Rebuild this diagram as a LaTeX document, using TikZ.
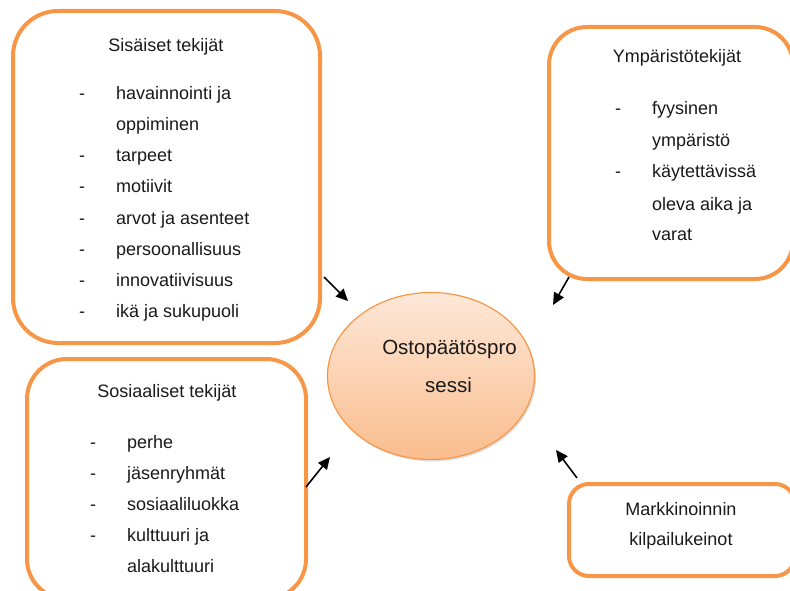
\documentclass[tikz,border=0pt]{standalone}
\usepackage{fontspec}
\setmainfont{Liberation Sans}
\usetikzlibrary{arrows.meta,shadows,shapes.geometric}
\definecolor{boxorange}{HTML}{F79646}
\definecolor{ellTop}{HTML}{FDE8D8}
\definecolor{ellBot}{HTML}{FABD8E}
\definecolor{inktext}{HTML}{1A1A1A}

\begin{document}
\begin{tikzpicture}[x=1pt,y=-1pt,
  factorbox/.style={draw=boxorange, line width=4pt, fill=white, inner sep=0pt},
  boxtext/.style={font=\fontsize{18}{22}\selectfont, text=inktext, inner sep=0pt},
  dashmark/.style={boxtext, anchor=base},
  itemtext/.style={boxtext, anchor=base west},
  titletext/.style={boxtext, anchor=base},
  proctext/.style={font=\fontsize{20.5}{24}\selectfont, text=inktext, inner sep=0pt, anchor=base},
  influence/.style={line width=1.6pt, draw=black, -{Triangle[length=12pt,width=11pt]}},
]
\useasboundingbox (0,0) rectangle (790,591);
\clip (0,0) rectangle (790,591);

% factor boxes
\node[factorbox, rounded corners=45pt, minimum width=307pt, minimum height=332pt] (sis) at (166.5,177) {};
\node[factorbox, rounded corners=40pt, minimum width=279pt, minimum height=240pt] (sos) at (166.5,479) {};
\node[factorbox, rounded corners=38pt, minimum width=244pt, minimum height=252pt] (ymp) at (671,153) {};
\node[factorbox, rounded corners=20pt, minimum width=226pt, minimum height=92pt] (mar) at (682,530) {};

% central process
\node[ellipse, draw=boxorange, line width=1.2pt, top color=ellTop, bottom color=ellBot,
      minimum width=207pt, minimum height=167pt, inner sep=0pt,
      drop shadow={shadow xshift=1.5pt, shadow yshift=-2pt, opacity=0.25}] (proc) at (431,376) {};
\node[proctext] (proc1) at (449.5,354) {Ostopäätöspro};
\node[proctext] (proc2) at (448.5,392) {sessi};

% internal factors
\node[titletext] (sisT) at (166,51.7) {Sisäiset tekijät};
\node[dashmark] (sd1) at (82,99.7) {-};
\node[itemtext] (si1) at (116,99.7) {havainnointi ja};
\node[itemtext] (si1b) at (116,130.8) {oppiminen};
\node[dashmark] (sd2) at (82,161.9) {-};
\node[itemtext] (si2) at (116,161.9) {tarpeet};
\node[dashmark] (sd3) at (82,193) {-};
\node[itemtext] (si3) at (116,193) {motiivit};
\node[dashmark] (sd4) at (82,224.1) {-};
\node[itemtext] (si4) at (116,224.1) {arvot ja asenteet};
\node[dashmark] (sd5) at (82,255.2) {-};
\node[itemtext] (si5) at (116,255.2) {persoonallisuus};
\node[dashmark] (sd6) at (82,286.3) {-};
\node[itemtext] (si6) at (116,286.3) {innovatiivisuus};
\node[dashmark] (sd7) at (82,317.4) {-};
\node[itemtext] (si7) at (116,317.4) {ikä ja sukupuoli};

% social factors
\node[titletext] (sosT) at (167,397) {Sosiaaliset tekijät};
\node[dashmark] (od1) at (93,448) {-};
\node[itemtext] (oi1) at (127,448) {perhe};
\node[dashmark] (od2) at (93,479.5) {-};
\node[itemtext] (oi2) at (127,479.5) {jäsenryhmät};
\node[dashmark] (od3) at (93,510) {-};
\node[itemtext] (oi3) at (127,510) {sosiaaliluokka};
\node[dashmark] (od4) at (93,541.5) {-};
\node[itemtext] (oi4) at (127,541.5) {kulttuuri ja};
\node[itemtext] (oi4b) at (127,572.5) {alakulttuuri};

% environmental factors
\node[titletext] (ympT) at (677,63) {Ympäristötekijät};
\node[dashmark] (yd1) at (618,115) {-};
\node[itemtext] (yi1) at (652,115) {fyysinen};
\node[itemtext] (yi1b) at (652,147) {ympäristö};
\node[dashmark] (yd2) at (618,178) {-};
\node[itemtext] (yi2) at (652,178) {käytettävissä};
\node[itemtext] (yi2b) at (652,210) {oleva aika ja};
\node[itemtext] (yi2c) at (652,240) {varat};

% marketing
\node[titletext] (mar1) at (681,515) {Markkinoinnin};
\node[titletext] (mar2) at (681,545) {kilpailukeinot};

% influence arrows
\coordinate (a1s) at (324,277); \coordinate (a1e) at (348,301);
\coordinate (a2s) at (569,277); \coordinate (a2e) at (553,305);
\coordinate (a3s) at (306,487); \coordinate (a3e) at (330,457);
\coordinate (a4s) at (577,478); \coordinate (a4e) at (556,450);
\draw[influence] (a1s) -- (a1e);
\draw[influence] (a2s) -- (a2e);
\draw[influence] (a3s) -- (a3e);
\draw[influence] (a4s) -- (a4e);
\end{tikzpicture}
\end{document}
